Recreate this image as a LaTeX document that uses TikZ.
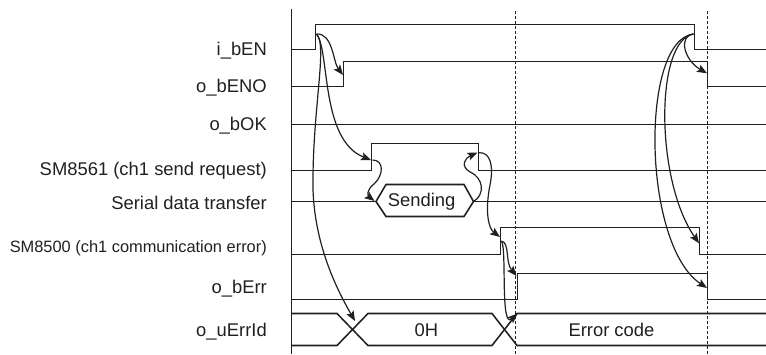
\documentclass[tikz,border=0pt]{standalone}
\usepackage{fontspec}
\setmainfont{Liberation Sans}
\usetikzlibrary{arrows.meta}
\definecolor{ink}{HTML}{231F20}
\begin{document}
\begin{tikzpicture}[x=1pt,y=-1pt,
  sig/.style={draw=ink, line width=1.55pt, line join=miter},
  gridline/.style={draw=ink, line width=1.2pt, dash pattern=on 3pt off 2pt},
  cause/.style={draw=ink, line width=1.2pt, -{Stealth[length=10pt,width=8pt,inset=2pt]}},
  lab/.style={anchor=base east, text=ink, font=\fontsize{18.4}{20}\selectfont, inner sep=0pt},
  smalllab/.style={anchor=base east, text=ink, font=\fontsize{16.4}{18}\selectfont, inner sep=0pt},
  val/.style={text=ink, font=\fontsize{18.4}{20}\selectfont, inner sep=0pt}]
\useasboundingbox (0,0) rectangle (766,354);

% signal names
\node[lab] (lEN)   at (267,55)    {i\_bEN};
\node[lab] (lENO)  at (267,92.7)  {o\_bENO};
\node[lab] (lOK)   at (267,130.7) {o\_bOK};
\node[lab] (lSM61) at (267,175.3) {SM8561 (ch1 send request)};
\node[lab] (lSer)  at (267,209.3) {Serial data transfer};
\node[smalllab] (lSM00) at (267,252.7) {SM8500 (ch1 communication error)};
\node[lab] (lErr)  at (267,293.3) {o\_bErr};
\node[lab] (lId)   at (267,336.7) {o\_uErrId};

% time axis and marker lines
\draw[gridline] (515.5,11) -- (515.5,354);
\draw[gridline] (707.5,11) -- (707.5,354);
\draw[sig] (291.5,9) -- (291.5,354);

% waveforms
\draw[sig] (291.5,49.5) -- (315.5,49.5) -- (315.5,24.5) -- (694.5,24.5) -- (694.5,49.5) -- (766,49.5);
\draw[sig] (291.5,86.5) -- (343.5,86.5) -- (343.5,61.5) -- (707.5,61.5) -- (707.5,86.5) -- (766,86.5);
\draw[sig] (291.5,124.5) -- (766,124.5);
\draw[sig] (291.5,170.5) -- (371.5,170.5) -- (371.5,143.5) -- (478.5,143.5) -- (478.5,170.5) -- (766,170.5);
\draw[sig] (291.5,201.5) -- (376,201.5);
\draw[sig] (376,201.5) -- (386,184.5) -- (464,184.5) -- (473.5,201.5) -- (464,216.5) -- (386,216.5) -- cycle;
\draw[sig] (473.5,201.5) -- (766,201.5);
\node[val, anchor=base] (vS) at (421.7,206.5) {Sending};
\draw[sig] (291.5,254.5) -- (500.5,254.5) -- (500.5,227.5) -- (699.5,227.5) -- (699.5,254.5) -- (766,254.5);
\draw[sig] (291.5,299.5) -- (517.5,299.5) -- (517.5,273.5) -- (707.5,273.5) -- (707.5,299.5) -- (766,299.5);
\draw[sig] (291.5,313.5) -- (337,313.5) -- (368,345.5) -- (492,345.5) -- (517,313.5) -- (766,313.5);
\draw[sig] (291.5,345.5) -- (337,345.5) -- (368,313.5) -- (492,313.5) -- (517,345.5) -- (766,345.5);
\node[val, anchor=base] (v0) at (426.4,336.5) {0H};
\node[val, anchor=base west] (vE) at (568.3,336.5) {Error code};

% connector end points
\coordinate (enUp) at (316.5,34);
\coordinate (enoUp) at (343,75);
\coordinate (smUp) at (371,160);
\coordinate (smUpS) at (372.5,160);
\coordinate (xA) at (355,321);
\coordinate (hexL) at (374.5,201);
\coordinate (hexR) at (473.5,201.5);
\coordinate (smDn) at (477.5,152.5);
\coordinate (smDnS) at (479,152.7);
\coordinate (erUp) at (500,237);
\coordinate (erUpS) at (501.5,241);
\coordinate (bErrUp) at (516.5,276);
\coordinate (xB) at (517.5,313.5);
\coordinate (enDn) at (693.5,34);
\coordinate (enoDn) at (707,73.3);
\coordinate (erDn) at (699,243.3);
\coordinate (bErrDn) at (707,288);

% cause-effect arrows
\draw[cause] (enUp) .. controls (333,33) and (333,62) .. (enoUp);
\draw[cause] (enUp) .. controls (330,50) and (320,140) .. (smUp);
\draw[cause] (enUp) .. controls (328,45) and (312,110) .. (313,190) .. controls (315,245) and (336,288) .. (xA);
\draw[cause] (smUpS) .. controls (384,160) and (384,175) .. (374,184) .. controls (366,190) and (368,196) .. (hexL);
\draw[cause] (hexR) .. controls (485,195) and (484,178) .. (470,172) .. controls (460,166) and (465,158) .. (smDn);
\draw[cause] (smDnS) .. controls (490,152) and (494,165) .. (490,185) .. controls (485,210) and (488,228) .. (erUp);
\draw[cause] (erUpS) .. controls (510,243) and (505,262) .. (bErrUp);
\draw[cause] (erUpS) .. controls (507,250) and (500,330) .. (xB);
\draw[cause] (enDn) .. controls (678,36) and (684,60) .. (enoDn);
\draw[cause] (enDn) .. controls (655,40) and (655,180) .. (erDn);
\draw[cause] (enDn) .. controls (640,40) and (642,245) .. (bErrDn);
\end{tikzpicture}
\end{document}
